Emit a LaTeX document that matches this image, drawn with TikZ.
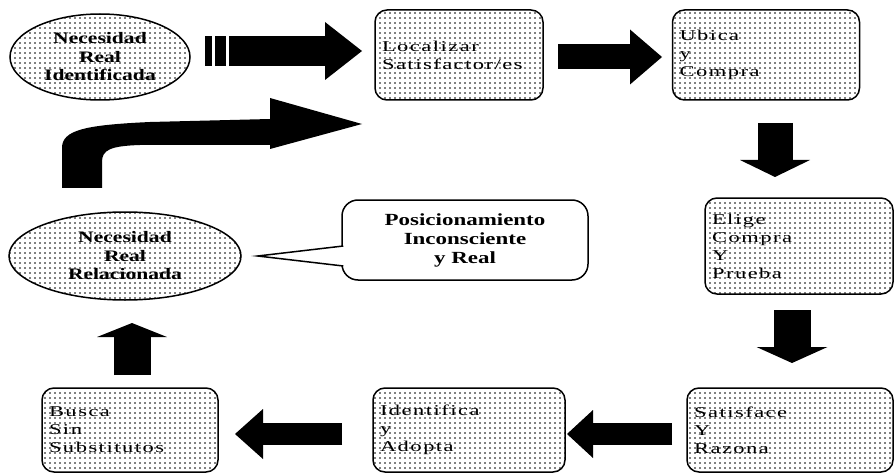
\documentclass[tikz,border=0pt]{standalone}
\usepackage{fontspec}
\setmainfont{Liberation Serif}[FakeStretch=1.35]
\newfontfamily\boxfont{Liberation Serif}[FakeStretch=1.5,LetterSpace=10]
\usepackage{tikz}
\usetikzlibrary{patterns}
\usetikzlibrary{patterns.meta}
\usetikzlibrary{arrows.meta}
\usetikzlibrary{shapes.geometric}
\tikzstyle{box} = [rectangle, rounded corners=12pt, draw=black, line width=1.5pt, pattern={Dots[distance=5pt,radius=0.8pt]}, align=left, inner xsep=7pt, font=\boxfont\fontsize{15}{18}\selectfont]
\tikzstyle{need} = [ellipse, draw=black, line width=1.5pt, pattern={Dots[distance=5pt,radius=0.8pt]}, align=center, inner sep=0pt, font=\bfseries\fontsize{16}{18.5}\selectfont]
\tikzstyle{callbox} = [rectangle, rounded corners=16pt, draw=black, line width=1.5pt, fill=white, align=center, font=\bfseries\fontsize{17}{19}\selectfont]
\tikzset{blk/.style n args={3}{line width=#1pt, -{Triangle[length=#2pt,width=#3pt,line width=0pt]}}}

\begin{document}
\begin{tikzpicture}[x=1pt, y=-1pt]

  \useasboundingbox (0,0) rectangle (896,473);

  % needs
  \node[need, minimum width=180pt, minimum height=86pt] (nri) at (100,57) {Necesidad\\Real\\Identificada};
  \node[need, minimum width=232pt, minimum height=88pt] (nrr) at (125,256) {Necesidad\\Real\\Relacionada};

  % boxes
  \node[box, minimum width=168pt, text width=154pt, minimum height=90pt] (loc) at (459,55) {Localizar\\Satisfactor/es};
  \node[box, minimum width=187pt, text width=173pt, minimum height=90pt] (ubc) at (766,55) {Ubica\\y\\Compra};
  \node[box, minimum width=188pt, text width=174pt, minimum height=96pt] (eli) at (799,246) {Elige\\Compra\\Y\\Prueba};
  \node[box, minimum width=206pt, text width=192pt, minimum height=84pt] (sat) at (790,430) {Satisface\\Y\\Razona};
  \node[box, minimum width=192pt, text width=178pt, minimum height=84pt] (ide) at (469,430) {Identifica\\y\\Adopta};
  \node[box, minimum width=176pt, text width=162pt, minimum height=84pt] (bus) at (130,430) {Busca\\Sin\\Substitutos};

  % callout
  \node[callbox, minimum width=246pt, minimum height=80pt] (pos) at (465,240) {Posicionamiento\\Inconsciente\\y Real};
  \coordinate (tip) at ([xshift=16pt]nrr.east);
  \filldraw[fill=white, line width=1.5pt] ([xshift=2pt,yshift=-6pt]pos.west) -- (tip) -- ([xshift=2pt,yshift=-26pt]pos.west);

  % block arrows
  \coordinate (a1s) at (229,51);  \coordinate (a1e) at (362,51);
  \coordinate (a2s) at (558,57);  \coordinate (a2e) at (662,57);
  \coordinate (a3s) at (775,123); \coordinate (a3e) at (775,177);
  \coordinate (a4s) at (792,310); \coordinate (a4e) at (792,363);
  \coordinate (a5s) at (672,434); \coordinate (a5e) at (567,434);
  \coordinate (a6s) at (342,434); \coordinate (a6e) at (235,434);
  \coordinate (a7s) at (132,375); \coordinate (a7e) at (132,323);

  \fill (205,36) rectangle (212,66);
  \fill (215,36) rectangle (226,66);
  \draw[blk={30}{37}{58}] (a1s) -- (a1e);
  \draw[blk={25}{32}{55}] (a2s) -- (a2e);
  \draw[blk={35}{17}{70}] (a3s) -- (a3e);
  \draw[blk={37}{16}{71}] (a4s) -- (a4e);
  \draw[blk={22}{26}{48}] (a5s) -- (a5e);
  \draw[blk={22}{28}{50}] (a6s) -- (a6e);
  \draw[blk={37}{14}{70}] (a7s) -- (a7e);

  % curved arrow back to the top
  \fill (62,188) -- (62,148) .. controls (62,130) and (85,125) .. (150,122) -- (270,119) -- (270,98) -- (362,124) -- (270,149) -- (270,145) -- (140,145) .. controls (110,146) and (102,150) .. (102,162) -- (102,188) -- cycle;

\end{tikzpicture}
\end{document}
